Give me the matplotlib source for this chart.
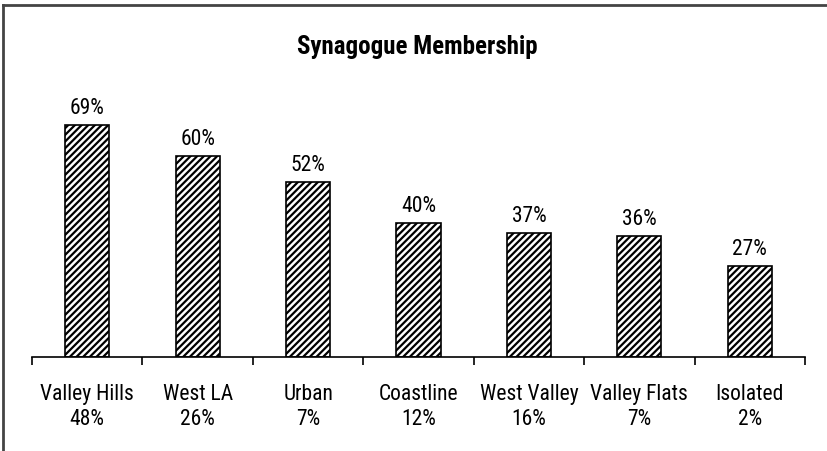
import matplotlib
matplotlib.use("Agg")
import matplotlib.pyplot as plt
from matplotlib.lines import Line2D
from matplotlib import font_manager

categories = ["Valley Hills", "West LA", "Urban", "Coastline", "West Valley", "Valley Flats", "Isolated"]
shares = ["48%", "26%", "7%", "12%", "16%", "7%", "2%"]
membership = [69, 60, 52, 40, 37, 36, 27]

installed = {f.name for f in font_manager.fontManager.ttflist}
preferred = [n for n in ['Liberation Sans Narrow', 'Roboto Condensed', 'Open Sans Condensed',
                         'Roboto', 'Liberation Sans'] if n in installed]
plt.rcParams['font.family'] = preferred + ['DejaVu Sans']
plt.rcParams['hatch.linewidth'] = 1.6

fig = plt.figure(figsize=(8.27, 4.52), dpi=100)
ax = fig.add_axes([32/827, 1 - 358/452, (805 - 32)/827, (358 - 89.4)/452])

x = list(range(len(categories)))
ax.bar(x, membership, width=0.4, color='white', edgecolor='black',
       linewidth=1.2, hatch='/////')

for xi, v in zip(x, membership):
    ax.annotate(f"{v}%", (xi, v), xytext=(0, 5), textcoords='offset points',
                ha='center', va='bottom', fontsize=15.5)

ax.set_xlim(-0.5, len(categories) - 0.5)
ax.set_ylim(0, 80)
ax.set_xticks(x)
ax.set_xticklabels([f"{c}\n{s}" for c, s in zip(categories, shares)], fontsize=15.5,
                   linespacing=1.25)
ax.tick_params(axis='x', which='major', length=0, pad=18.5)
ax.set_xticks([i - 0.5 for i in range(len(categories) + 1)], minor=True)
ax.tick_params(axis='x', which='minor', length=5.5, width=1.2, direction='out', color='black')
ax.set_yticks([])
for s in ['left', 'right', 'top']:
    ax.spines[s].set_visible(False)
ax.spines['bottom'].set_linewidth(1.2)

fig.text(417/827, 1 - 47/452, "Synagogue Membership", ha='center', va='center',
         fontsize=18, fontweight='bold')

# partial frame (top and left edges)
fig.add_artist(Line2D([3/827, 3/827], [0, 1 - 6/452], color='#444444', linewidth=2,
                      transform=fig.transFigure))
fig.add_artist(Line2D([3/827, 1], [1 - 6/452, 1 - 6/452], color='#444444', linewidth=2,
                      transform=fig.transFigure))

fig.savefig("out.png", dpi=100)
